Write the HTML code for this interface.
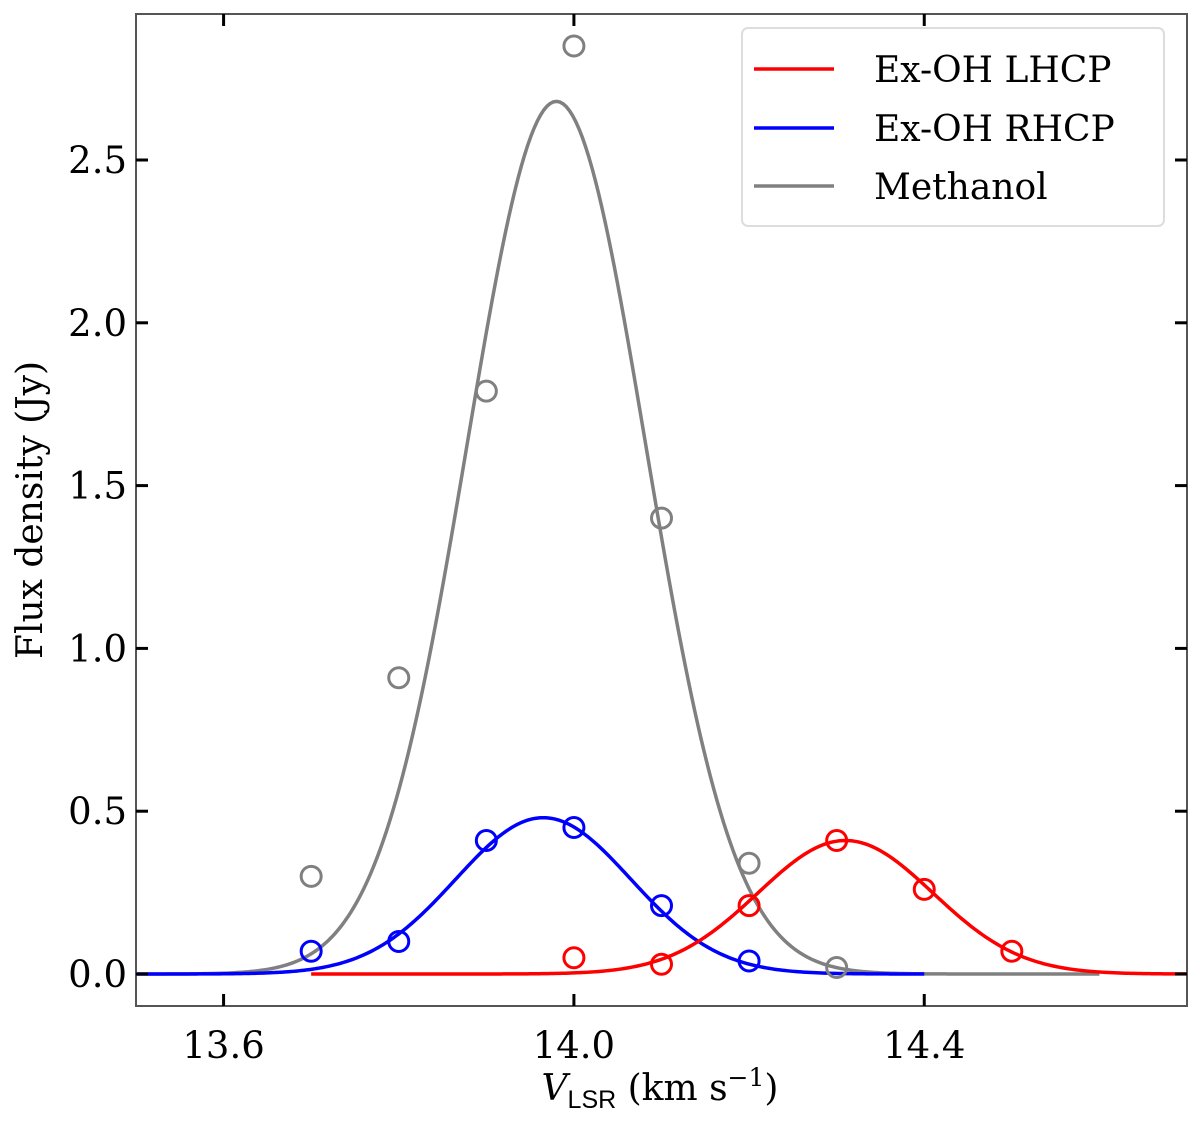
<!DOCTYPE html>
<html><head><meta charset="utf-8"><style>
body{margin:0;background:#fff}
svg text{font-family:"DejaVu Serif","Liberation Serif",serif;fill:#000}
</style></head><body>
<svg id="chart" width="1200" height="1120" xmlns="http://www.w3.org/2000/svg">
<g id="plot"></g>
</svg>
<script>
const xTicks=[13.6,14.0,14.4];
const xTickLabels=["13.6","14.0","14.4"];
const yTicks=[0,0.5,1.0,1.5,2.0,2.5];
const yTickLabels=["0.0","0.5","1.0","1.5","2.0","2.5"];
const methX=[13.7,13.8,13.9,14.0,14.1,14.2,14.3];
const methY=[0.30,0.91,1.79,2.85,1.40,0.34,0.02];
const rhcpX=[13.7,13.8,13.9,14.0,14.1,14.2];
const rhcpY=[0.07,0.10,0.41,0.45,0.21,0.04];
const lhcpX=[14.0,14.1,14.2,14.3,14.4,14.5];
const lhcpY=[0.05,0.03,0.21,0.41,0.26,0.07];
const methFit=[2.68,13.98,0.102,13.5,14.6];
const rhcpFit=[0.48,13.965,0.10,13.5,14.4];
const lhcpFit=[0.41,14.31,0.10,13.7,14.7];

const L=136,R=1187,T=14,B=1006;
const X0=13.5,X1=14.7;
function sx(v){return L+(v-X0)/(X1-X0)*(R-L);}
function sy(v){return 974-v*325.6;}
const NS="http://www.w3.org/2000/svg";
const g=document.getElementById('plot');
function mk(t,a){const e=document.createElementNS(NS,t);for(const k in a)e.setAttribute(k,a[k]);g.appendChild(e);return e;}

function curve(fit,color,name){
  let d="";
  for(let i=0;i<=300;i++){const x=fit[3]+(fit[4]-fit[3])*i/300;const y=fit[0]*Math.exp(-0.5*Math.pow((x-fit[1])/fit[2],2));d+=(i?"L":"M")+sx(x).toFixed(2)+","+sy(y).toFixed(2);}
  const p=mk('path',{d:d,fill:'none',stroke:color,'stroke-width':3.5});
  
  
}
function pts(xs,ys,color,name){
  xs.forEach((x,i)=>{const c=mk('circle',{cx:sx(x),cy:sy(ys[i]),r:10,fill:'none',stroke:color,'stroke-width':3});
  
  });
}
curve(methFit,'#808080','methanol-fit');
curve(rhcpFit,'#0000ff','rhcp-fit');
curve(lhcpFit,'#ff0000','lhcp-fit');
pts(methX,methY,'#808080','methanol-point');
pts(rhcpX,rhcpY,'#0000ff','rhcp-point');
pts(lhcpX,lhcpY,'#ff0000','lhcp-point');

const fr=mk('rect',{x:L,y:T,width:R-L,height:B-T,fill:'none',stroke:'#555','stroke-width':2});


xTicks.forEach((v,i)=>{
  mk('line',{x1:sx(v),x2:sx(v),y1:B,y2:B-12,stroke:'#000','stroke-width':3});
  mk('line',{x1:sx(v),x2:sx(v),y1:T,y2:T+12,stroke:'#000','stroke-width':3});
  const t=mk('text',{x:sx(v),y:1058,'text-anchor':'middle','font-size':37});t.textContent=xTickLabels[i];
  
  
});
yTicks.forEach((v,i)=>{
  mk('line',{x1:L,x2:L+12,y1:sy(v),y2:sy(v),stroke:'#000','stroke-width':3});
  mk('line',{x1:R,x2:R-12,y1:sy(v),y2:sy(v),stroke:'#000','stroke-width':3});
  const t=mk('text',{x:127,y:sy(v)+13,'text-anchor':'end','font-size':37});t.textContent=yTickLabels[i];
  
  
});
</script>
<svg style="position:absolute;left:0;top:0" width="1200" height="1120" xmlns="http://www.w3.org/2000/svg">
<text transform="translate(42,510) rotate(-90)" text-anchor="middle" font-size="36">Flux density (Jy)</text>
<text x="660" y="1100" text-anchor="middle" font-size="36"><tspan font-style="italic">V</tspan><tspan font-size="25" dy="8" font-family="Liberation Sans">LSR</tspan><tspan dy="-8"> (km s</tspan><tspan font-size="25" dy="-14">−1</tspan><tspan dy="14">)</tspan></text>
<g>
<rect x="742" y="28" width="422" height="198" rx="6" fill="#fff" stroke="#ddd" stroke-width="2"/>
<line x1="754" x2="834" y1="69" y2="69" stroke="#ff0000" stroke-width="3.5"/>
<text x="874" y="82" font-size="36">Ex-OH LHCP</text>
<line x1="754" x2="834" y1="128" y2="128" stroke="#0000ff" stroke-width="3.5"/>
<text x="874" y="141" font-size="36">Ex-OH RHCP</text>
<line x1="754" x2="834" y1="186" y2="186" stroke="#808080" stroke-width="3.5"/>
<text x="874" y="199" font-size="36">Methanol</text>
</g>
</svg>
</body></html>
